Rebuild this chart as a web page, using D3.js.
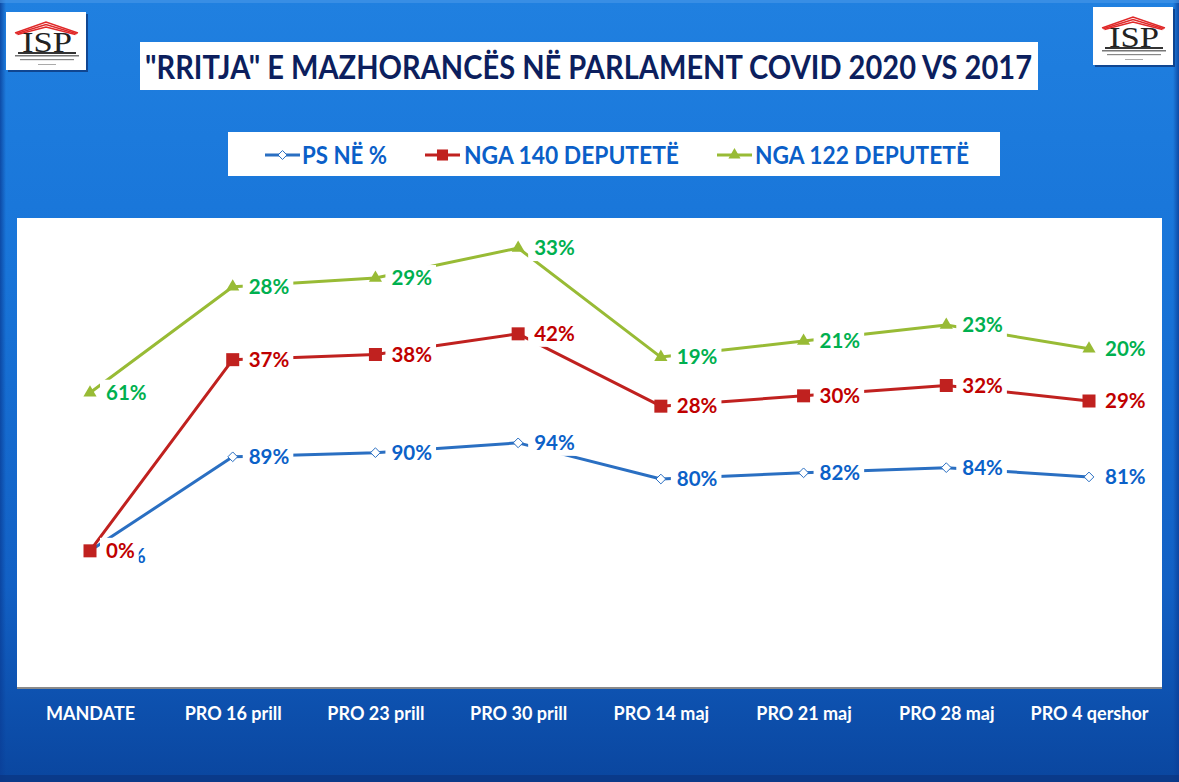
<!DOCTYPE html>
<html>
<head>
<meta charset="utf-8">
<script src="https://cdn.jsdelivr.net/npm/d3@7"></script>
<style>
  body { margin: 0; background: #fff; }
  svg { display: block; }
  text { font-family: Lato, 'Open Sans', sans-serif; font-weight: bold; }
</style>
</head>
<body>
<div id="chart"></div>
<script>
// categories on the x axis
let categories = ['MANDATE', 'PRO 16 prill', 'PRO 23 prill', 'PRO 30 prill', 'PRO 14 maj', 'PRO 21 maj', 'PRO 28 maj', 'PRO 4 qershor'];

// plotted heights of each series (hidden axis)
let psValues = [0, 18.2, 19.0, 20.9, 13.9, 15.1, 16.1, 14.3];
let nga140Values = [0, 37, 38, 42, 28, 30, 32, 29];
let nga122Values = [30.6, 51.1, 52.8, 58.6, 37.5, 40.6, 43.7, 39.1];

// data labels shown next to each point (in %)
let psLabels = [0, 89, 90, 94, 80, 82, 84, 81];
let nga140Labels = [0, 37, 38, 42, 28, 30, 32, 29];
let nga122Labels = [61, 28, 29, 33, 19, 21, 23, 20];

let seriesNames = ['PS NË %', 'NGA 140 DEPUTETË', 'NGA 122 DEPUTETË'];
let titleText = '"RRITJA" E MAZHORANCËS NË PARLAMENT COVID 2020 VS 2017';

class LineChart {

    constructor() {
        this.width = 1179;
        this.height = 782;
        this.plot = {x: 17, y: 218, w: 1145, h: 469};

        this.svg = d3.select('#chart').append('svg')
            .attr('width', this.width)
            .attr('height', this.height);

        this.series = [
            {name: seriesNames[0], values: psValues, labels: psLabels, line: '#2a6fc2', text: '#0b61c8', marker: 'diamond'},
            {name: seriesNames[1], values: nga140Values, labels: nga140Labels, line: '#c0211f', text: '#c00000', marker: 'square'},
            {name: seriesNames[2], values: nga122Values, labels: nga122Labels, line: '#98bb35', text: '#00b04f', marker: 'triangle'}
        ];

        this.xScale = d3.scalePoint()
            .domain(categories)
            .range([90, 1089]);

        this.yScale = d3.scaleLinear()
            .domain([-25, 65])
            .range([680, 215]);
    }

    drawBackground() {
        let defs = this.svg.append('defs');
        let grad = defs.append('linearGradient').attr('id', 'bg').attr('x1', 0).attr('y1', 0).attr('x2', 0).attr('y2', 1);
        grad.append('stop').attr('offset', '0%').attr('stop-color', '#2080e0');
        grad.append('stop').attr('offset', '35%').attr('stop-color', '#1874d8');
        grad.append('stop').attr('offset', '75%').attr('stop-color', '#1260c4');
        grad.append('stop').attr('offset', '100%').attr('stop-color', '#0a469f');

        let side = defs.append('linearGradient').attr('id', 'side').attr('x1', 0).attr('y1', 0).attr('x2', 1).attr('y2', 0);
        side.append('stop').attr('offset', '0%').attr('stop-color', '#0a3f98').attr('stop-opacity', 0.8);
        side.append('stop').attr('offset', '100%').attr('stop-color', '#0a3f98').attr('stop-opacity', 0);

        this.svg.append('rect')
            .attr('width', this.width).attr('height', this.height)
            .attr('fill', 'url(#bg)');
        // bevel edges
        this.svg.append('rect').attr('x', 0).attr('y', 0).attr('width', 6).attr('height', this.height).attr('fill', 'url(#side)');
        this.svg.append('rect').attr('x', this.width - 6).attr('y', 0).attr('width', 6).attr('height', this.height)
            .attr('fill', 'url(#side)').attr('transform', 'rotate(180,' + (this.width - 3) + ',' + (this.height / 2) + ')');
        this.svg.append('rect').attr('x', 0).attr('y', 0).attr('width', this.width).attr('height', 3).attr('fill', '#4a98e8').attr('opacity', 0.6);
        this.svg.append('rect').attr('x', 0).attr('y', this.height - 7).attr('width', this.width).attr('height', 7).attr('fill', '#0a3580').attr('opacity', 0.7);
    }

    drawLogo(x, y) {
        let g = this.svg.append('g').attr('transform', 'translate(' + x + ',' + y + ')');
        g.append('rect').attr('x', 2).attr('y', 2).attr('width', 80).attr('height', 58).attr('fill', '#0a2f70').attr('opacity', 0.7);
        g.append('rect').attr('width', 80).attr('height', 58).attr('fill', '#fff');
        // roof
        [0, 2.5, 5].forEach(d => {
            g.append('path')
                .attr('d', 'M' + (9 + d * 0.5) + ',' + (21 + d * 0.3) + ' L40,' + (10 + d) + ' L' + (72 - d * 0.5) + ',' + (21 + d * 0.3))
                .attr('fill', 'none').attr('stroke', '#e02828').attr('stroke-width', 1.4);
        });
        g.append('text')
            .attr('x', 41).attr('y', 40)
            .attr('text-anchor', 'middle')
            .style('font-family', "'Liberation Serif', 'DejaVu Serif', serif")
            .style('font-size', '29px')
            .style('font-weight', 'normal')
            .attr('fill', '#222')
            .attr('textLength', 50)
            .attr('lengthAdjust', 'spacingAndGlyphs')
            .text('ISP');
        g.append('rect').attr('x', 12).attr('y', 40).attr('width', 58).attr('height', 2).attr('fill', '#333');
        g.append('rect').attr('x', 9).attr('y', 43).attr('width', 64).attr('height', 1.5).attr('fill', '#777');
        g.append('rect').attr('x', 14).attr('y', 47).attr('width', 54).attr('height', 1.2).attr('fill', '#888');
        g.append('rect').attr('x', 32).attr('y', 52).attr('width', 18).attr('height', 1).attr('fill', '#aaa');
    }

    fitText(sel, w) {
        let natural = sel.node().getComputedTextLength();
        if (natural > w) {
            sel.attr('textLength', w).attr('lengthAdjust', 'spacingAndGlyphs');
        }
    }

    drawTitle() {
        this.svg.append('rect')
            .attr('x', 140).attr('y', 42).attr('width', 898).attr('height', 48)
            .attr('fill', '#fff');
        let t = this.svg.append('text')
            .attr('x', 145).attr('y', 79)
            .style('font-size', '33px')
            .attr('fill', '#0c1f5e')
            .text(titleText);
        this.fitText(t, 887);
    }

    drawMarker(g, type, x, y, color, scale) {
        let s = scale || 1;
        if (type === 'diamond') {
            g.append('path')
                .attr('d', d3.symbol().type(d3.symbolDiamond2).size(60 * s)())
                .attr('transform', 'translate(' + x + ',' + y + ')')
                .attr('fill', '#fff').attr('stroke', color).attr('stroke-width', 1);
        } else if (type === 'square') {
            g.append('rect')
                .attr('x', x - 6.5 * s).attr('y', y - 6.5 * s)
                .attr('width', 13 * s).attr('height', 13 * s)
                .attr('fill', color);
        } else {
            g.append('path')
                .attr('d', d3.symbol().type(d3.symbolTriangle).size(75 * s)())
                .attr('transform', 'translate(' + x + ',' + y + ')')
                .attr('fill', color);
        }
    }

    drawLegend() {
        this.svg.append('rect')
            .attr('x', 228).attr('y', 132).attr('width', 772).attr('height', 44)
            .attr('fill', '#fff');
        let entries = [
            {lx: 265, tx: 302, tw: 85},
            {lx: 425, tx: 464, tw: 215},
            {lx: 717, tx: 755, tw: 214}
        ];
        let g = this.svg.append('g').attr('class', 'legend');
        this.series.forEach((s, i) => {
            let e = entries[i];
            g.append('line')
                .attr('x1', e.lx).attr('x2', e.lx + 35)
                .attr('y1', 155).attr('y2', 155)
                .attr('stroke', s.line).attr('stroke-width', 3);
            this.drawMarker(g, s.marker, e.lx + 17.5, 155, s.line, 0.85);
            let t = g.append('text')
                .attr('x', e.tx).attr('y', 164)
                .style('font-size', '25px')
                .attr('fill', '#0b5fc8')
                .text(s.name);
            this.fitText(t, e.tw);
        });
    }

    drawChart() {
        let p = this.plot;
        this.svg.append('rect')
            .attr('x', p.x).attr('y', p.y + 2).attr('width', p.w).attr('height', p.h)
            .attr('fill', '#8a8a8a');
        this.svg.append('rect')
            .attr('x', p.x).attr('y', p.y).attr('width', p.w).attr('height', p.h)
            .attr('fill', '#fff');

        let line = d3.line()
            .x((d, i) => this.xScale(categories[i]))
            .y(d => this.yScale(d));

        let lines = this.svg.append('g').attr('class', 'lines');
        this.series.forEach(s => {
            lines.append('path')
                .datum(s.values)
                .attr('d', line)
                .attr('fill', 'none')
                .attr('stroke', s.line)
                .attr('stroke-width', 3)
                .attr('stroke-linejoin', 'round');
        });

        let markers = this.svg.append('g').attr('class', 'markers');
        this.series.forEach(s => {
            s.values.forEach((v, i) => {
                this.drawMarker(markers, s.marker, this.xScale(categories[i]), this.yScale(v), s.line);
            });
        });

        // first PS label sits mostly under the red one, as in the source
        let labels = this.svg.append('g').attr('class', 'labels');
        this.series.forEach((s, k) => {
            s.values.forEach((v, i) => {
                let hidden = (k === 0 && i === 0);
                let x = this.xScale(categories[i]) + (hidden ? 11 : 0);
                let y = this.yScale(v) + (hidden ? 5 : 0);
                let lg = labels.append('g');
                let box = lg.append('rect').attr('fill', '#fff');
                let t = lg.append('text')
                    .attr('x', x + 16).attr('y', y + 7)
                    .style('font-size', '20.5px')
                    .attr('fill', s.text)
                    .text(s.labels[i] + '%');
                let w = t.node().getComputedTextLength();
                box.attr('x', x + 10).attr('y', y - 13).attr('width', w + 10).attr('height', 26);
            });
        });

        let xAxis = d3.axisBottom(this.xScale).tickSize(0).tickPadding(0);
        let ax = this.svg.append('g')
            .attr('transform', 'translate(0,708)')
            .call(xAxis);
        ax.select('.domain').remove();
        ax.selectAll('text')
            .attr('dy', '12')
            .style('font-family', 'Lato, sans-serif')
            .style('font-weight', 'bold')
            .style('font-size', '18px')
            .attr('fill', '#fff');
    }

    draw() {
        this.drawBackground();
        this.drawLogo(6, 12);
        this.drawLogo(1093, 7);
        this.drawTitle();
        this.drawLegend();
        this.drawChart();
    }
}

let chart = new LineChart();
chart.draw();
</script>
</body>
</html>
